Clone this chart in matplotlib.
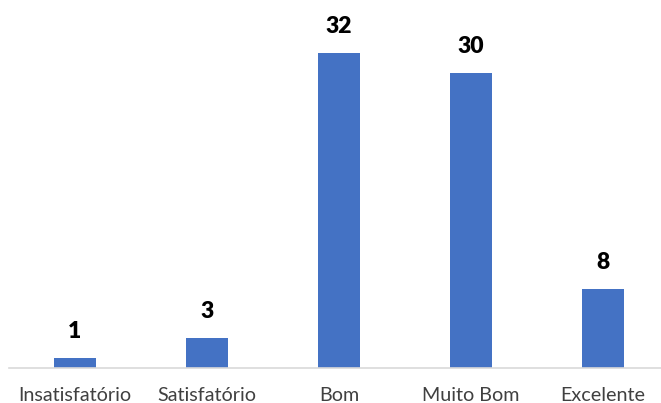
import matplotlib.pyplot as plt

categories = ['Insatisfatório', 'Satisfatório', 'Bom', 'Muito Bom', 'Excelente']
counts = [1, 3, 32, 30, 8]

plt.rcParams['font.family'] = ['Lato', 'DejaVu Sans']

fig = plt.figure(figsize=(6.61, 4.03), dpi=100)
# plot area runs a little past the right edge, as in the original crop
ax = fig.add_axes([9/661, 35/403, 660/661, 35*9.84/403])

x = range(len(categories))
bars = ax.bar(x, counts, width=0.318, color='#4472C4')
ax.set_xlim(-0.5, len(categories) - 0.5)
ax.set_ylim(0, 35)

for xi, v in zip(x, counts):
    ax.annotate(str(v), (xi, v), xytext=(0, 14.5), textcoords='offset points',
                ha='center', va='baseline', fontsize=16.5, fontweight='heavy',
                color='black')

ax.set_xticks(list(x))
ax.set_xticklabels(categories, fontsize=14.2, color='#404040')
ax.tick_params(axis='x', length=0, pad=14)
ax.set_yticks([])
for s in ['top', 'right', 'left']:
    ax.spines[s].set_visible(False)
ax.spines['bottom'].set_color('#D9D9D9')
ax.spines['bottom'].set_linewidth(1.2)

plt.savefig('out.png', dpi=100)
plt.close()
